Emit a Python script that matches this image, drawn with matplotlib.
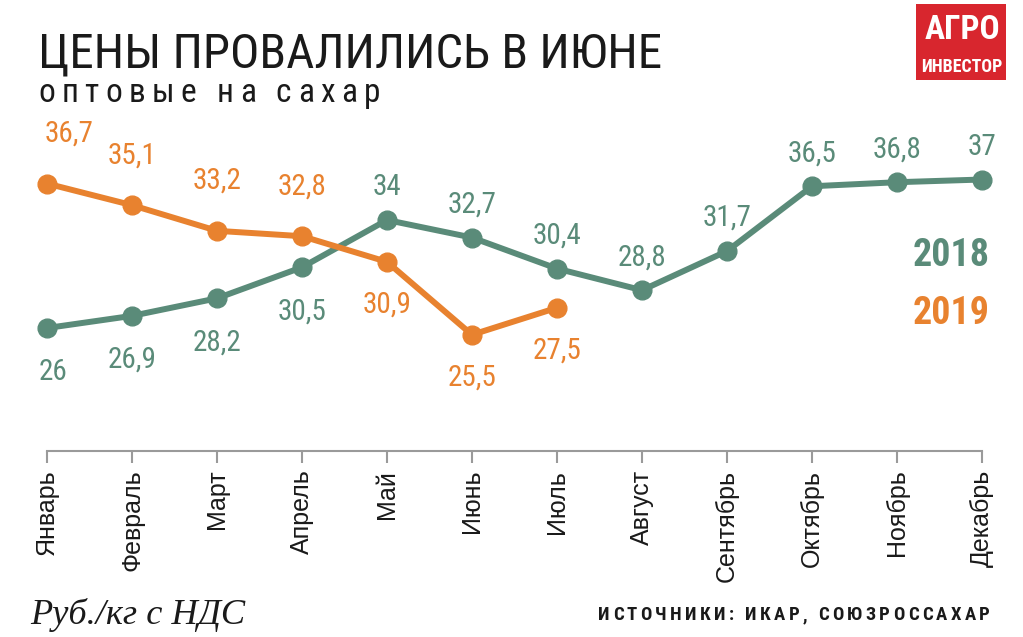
import matplotlib
matplotlib.use("Agg")
import matplotlib.pyplot as plt
from matplotlib.patches import Rectangle

months = ["Январь", "Февраль", "Март", "Апрель", "Май", "Июнь",
          "Июль", "Август", "Сентябрь", "Октябрь", "Ноябрь", "Декабрь"]
price_2018 = [26, 26.9, 28.2, 30.5, 34, 32.7, 30.4, 28.8, 31.7, 36.5, 36.8, 37]
price_2019 = [36.7, 35.1, 33.2, 32.8, 30.9, 25.5, 27.5]

# which side of the point each value label goes
side_2018 = ["below"] * 4 + ["above"] * 8
side_2019 = ["above"] * 4 + ["below"] * 3

GREEN = "#5a8b79"
ORANGE = "#e8822f"
NARROW = dict(family=["Liberation Sans Narrow", "Roboto Condensed", "DejaVu Sans"],
              stretch="condensed")

W, H = 1023, 637
fig = plt.figure(figsize=(W / 100, H / 100), dpi=100)
fig.patch.set_facecolor("white")
renderer = fig.canvas.get_renderer()


def fx(x):
    return x / W


def fy(y):
    return 1 - y / H


def fit(t, width):
    # shrink/grow a text so that it is `width` pixels wide
    w = t.get_window_extent(renderer).width
    t.set_fontsize(t.get_fontsize() * width / w)
    return t


# plot area: x from Jan (47px) to Dec (982px), axis line at y=451px
ax = fig.add_axes([fx(47), fy(451), (982 - 47) / W, (451 - 100) / H])
ax.set_xlim(0, 11)
ax.set_ylim(16.89, 42.89)
for s in ["top", "right", "left"]:
    ax.spines[s].set_visible(False)
ax.spines["bottom"].set_color("#9a9a9a")
ax.spines["bottom"].set_linewidth(1.5)
ax.set_yticks([])
ax.set_xticks(range(len(months)))
ax.set_xticklabels(months, rotation=90, fontsize=18,
                   family=["Liberation Sans", "DejaVu Sans"], color="#1a1a1a",
                   va="top")
ax.tick_params(axis="x", direction="out", length=8.5, width=1.5,
               color="#9a9a9a", pad=5)

x18 = list(range(len(price_2018)))
x19 = list(range(len(price_2019)))
ax.plot(x18, price_2018, color=GREEN, lw=4.3, marker="o", ms=13.5,
        clip_on=False, zorder=3)
ax.plot(x19, price_2019, color=ORANGE, lw=4.3, marker="o", ms=13.5,
        clip_on=False, zorder=4)


def fmt(v):
    s = ("%.1f" % v).rstrip("0").rstrip(".")
    return s.replace(".", ",")


def labels(xs, vals, sides, color, up, down, first_dx):
    for i, (x, v, sd) in enumerate(zip(xs, vals, sides)):
        dy = up if sd == "above" else -down
        dx = first_dx if i == 0 else 0
        ax.annotate(fmt(v), (x, v), xytext=(dx, dy),
                    textcoords="offset pixels", ha="center", va="center",
                    fontsize=21, color=color,
                    annotation_clip=False, **NARROW)


labels(x18, price_2018, side_2018, GREEN, 33, 44, 6)
labels(x19, price_2019, side_2019, ORANGE, 50, 43, 22)

# legend
fit(fig.text(fx(990), fy(256), "2018", ha="right", va="center", fontsize=30,
             fontweight="bold", color=GREEN, **NARROW), 77)
fit(fig.text(fx(990), fy(313), "2019", ha="right", va="center", fontsize=30,
             fontweight="bold", color=ORANGE, **NARROW), 77)

# title
fit(fig.text(fx(38), fy(67), "ЦЕНЫ ПРОВАЛИЛИСЬ В ИЮНЕ", ha="left",
             va="baseline", fontsize=40, color="#1a1a1a", **NARROW), 624)


def spaced(x0, x1, y, s, **kw):
    # draw letters one by one so they fill the span x0..x1
    size = kw.get("fontsize", 12)
    objs, widths = [], []
    for ch in s:
        t = fig.text(0, fy(y), ch, ha="left", va="baseline", **kw)
        w = t.get_window_extent(renderer).width
        if ch == " ":
            w = size * 0.3
        objs.append(t)
        widths.append(w)
    gap = (x1 - x0 - sum(widths)) / (len(s) - 1)
    x = x0
    for t, w in zip(objs, widths):
        t.set_x(fx(x))
        x += w + gap


spaced(38, 380, 102, "оптовые на сахар", fontsize=24, color="#1a1a1a",
       **NARROW)
spaced(598, 990, 620, "ИСТОЧНИКИ: ИКАР, СОЮЗРОССАХАР", fontsize=13.5,
       fontweight="bold", color="#1a1a1a", **NARROW)

fit(fig.text(fx(30), fy(624), "Руб./кг с НДС", ha="left", va="baseline",
             fontsize=26, style="italic",
             family=["Liberation Serif", "DejaVu Serif"], color="#1a1a1a"),
    215)

# logo
fig.patches.append(Rectangle((fx(916), fy(80)), 90 / W, 76 / H,
                             transform=fig.transFigure, facecolor="#d8262e",
                             edgecolor="none"))
fit(fig.text(fx(962), fy(39), "АГРО", ha="center", va="baseline",
             fontsize=23, fontweight="bold", color="white", **NARROW), 76)
fit(fig.text(fx(962), fy(72), "ИНВЕСТОР", ha="center", va="baseline",
             fontsize=14, fontweight="bold", color="white", **NARROW), 82)

fig.savefig("out.png", dpi=100, facecolor="white")
